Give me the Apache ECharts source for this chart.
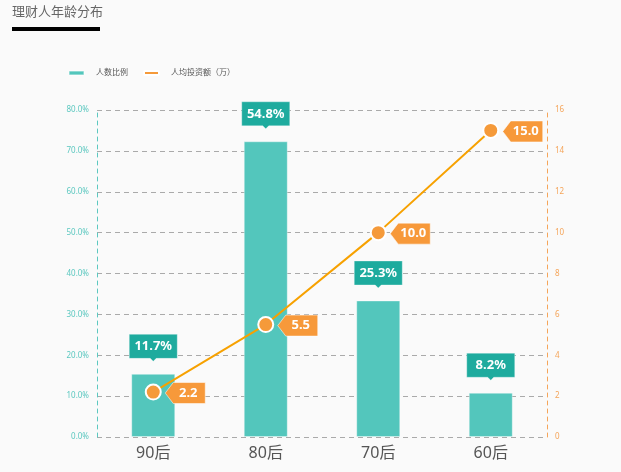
<!DOCTYPE html>
<html><head><meta charset="utf-8">
<script src="https://cdn.jsdelivr.net/npm/echarts@6/dist/echarts.min.js"></script>
<style>html,body{margin:0;padding:0;background:#fafafa}#c{width:621px;height:472px}</style>
</head><body><div id="c"></div>
<script>
const categories = ['90后', '80后', '70后', '60后'];
const ratioValues = [11.7, 54.8, 25.3, 8.2];
const investValues = [2.2, 5.5, 10.0, 15.0];
const leftTicks = ['0.0%','10.0%','20.0%','30.0%','40.0%','50.0%','60.0%','70.0%','80.0%'];
const rightTicks = ['0','2','4','6','8','10','12','14','16'];

const FONT = "'Noto Sans', 'Noto Sans CJK SC', sans-serif";
const chart = echarts.init(document.getElementById('c'));
chart.setOption({
  backgroundColor: '#fafafa',
  textStyle: { fontFamily: FONT },
  title: {
    text: '理财人年龄分布', left: 12, top: 6, padding: 0,
    textStyle: { fontSize: 13, fontWeight: 'normal', color: '#666', fontFamily: FONT }
  },
  graphic: [{ type: 'rect', left: 12, top: 27, shape: { width: 88, height: 4 }, style: { fill: '#000' } }],
  legend: {
    left: 63, top: 64, itemWidth: 15, itemHeight: 4, itemGap: 15,
    textStyle: { fontSize: 8, color: '#555', padding: [0, 0, 0, 7] },
    data: [{ name: '人数比例', icon: 'roundRect' }, { name: '人均投资额（万）', icon: 'roundRect' }]
  },
  grid: { left: 97, right: 74, top: 110, bottom: 35 },
  xAxis: {
    type: 'category', data: categories,
    axisLine: { show: false }, axisTick: { show: false },
    axisLabel: { fontSize: 16, color: '#555', margin: 8 }
  },
  yAxis: [
    {
      type: 'value', min: 0, max: 80, interval: 10, position: 'left',
      axisLine: { show: true, lineStyle: { color: '#5cc8c0', type: [4, 4] } },
      axisTick: { show: false },
      axisLabel: { fontSize: 8, color: '#5cc8c0', margin: 8,
        formatter: (v) => leftTicks[Math.round(v / 10)] },
      splitLine: { show: true, lineStyle: { color: '#aaa', type: [5, 4] } }
    },
    {
      type: 'value', min: 0, max: 16, interval: 2, position: 'right',
      axisLine: { show: true, lineStyle: { color: '#f5a55a', type: [4, 4] } },
      axisTick: { show: false },
      axisLabel: { fontSize: 8, color: '#f5a55a', margin: 8,
        formatter: (v) => rightTicks[Math.round(v / 2)] },
      splitLine: { show: false }
    },
    { type: 'value', min: 0, max: 60.6, show: false }
  ],
  series: [
    {
      name: '人数比例', type: 'bar', yAxisIndex: 2, barWidth: 44,
      data: ratioValues,
      itemStyle: { color: '#53c6bc', borderColor: 'rgba(255,255,255,0.35)', borderWidth: 1 },
      z: 2
    },
    {
      name: '人均投资额（万）', type: 'line', yAxisIndex: 1,
      data: investValues,
      lineStyle: { color: '#f7a100', width: 2 },
      itemStyle: { color: '#f59a3a', borderColor: '#fff', borderWidth: 2 },
      symbol: 'circle', symbolSize: 15, z: 5
    },
    {
      type: 'scatter', yAxisIndex: 1, data: investValues, silent: true,
      symbol: 'path://M0,10.5 L8,0 L40,0 L40,21 L8,21 Z',
      symbolKeepAspect: false, symbolSize: [40, 21], symbolOffset: [32, 1],
      itemStyle: { color: '#f7993a', opacity: 1, borderColor: '#fff', borderWidth: 0.5 },
      label: { show: true, position: 'inside', offset: [3, 0], color: '#fff', fontSize: 13, fontWeight: 'bold',
        formatter: (p) => p.value.toFixed(1) },
      z: 6
    },
    {
      type: 'scatter', yAxisIndex: 2, data: ratioValues, silent: true,
      symbol: 'path://M0,0 L48,0 L48,24 L27,24 L24,27 L21,24 L0,24 Z',
      symbolKeepAspect: false, symbolSize: [48, 27], symbolOffset: [0, -26],
      itemStyle: { color: '#1eab9e', opacity: 1, borderColor: 'rgba(255,255,255,0.6)', borderWidth: 0.5 },
      label: { show: true, position: 'inside', offset: [0, -1.5], color: '#fff', fontSize: 13, fontWeight: 'bold',
        formatter: (p) => p.value.toFixed(1) + '%' },
      z: 6
    }
  ]
});
</script></body></html>
